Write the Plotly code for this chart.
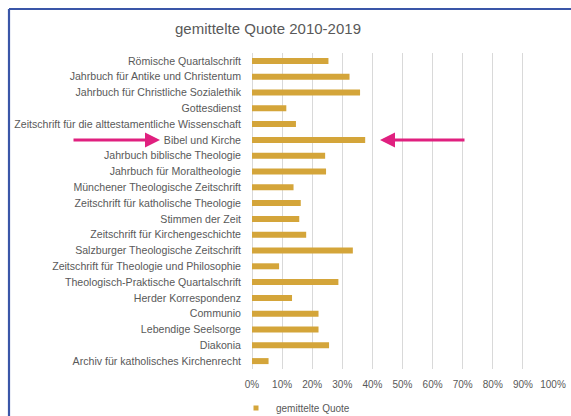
import plotly.graph_objects as go

categories = [
    "Römische Quartalschrift",
    "Jahrbuch für Antike und Christentum",
    "Jahrbuch für Christliche Sozialethik",
    "Gottesdienst",
    "Zeitschrift für die alttestamentliche Wissenschaft",
    "Bibel und Kirche",
    "Jahrbuch biblische Theologie",
    "Jahrbuch für Moraltheologie",
    "Münchener Theologische Zeitschrift",
    "Zeitschrift für katholische Theologie",
    "Stimmen der Zeit",
    "Zeitschrift für Kirchengeschichte",
    "Salzburger Theologische Zeitschrift",
    "Zeitschrift für Theologie und Philosophie",
    "Theologisch-Praktische Quartalschrift",
    "Herder Korrespondenz",
    "Communio",
    "Lebendige Seelsorge",
    "Diakonia",
    "Archiv für katholisches Kirchenrecht",
]
quote = [0.254, 0.324, 0.359, 0.114, 0.146, 0.376, 0.243, 0.246, 0.138, 0.162,
         0.157, 0.180, 0.335, 0.090, 0.287, 0.133, 0.221, 0.221, 0.256, 0.055]
tick_vals = [i / 10 for i in range(11)]
tick_text = [f"{i*10}%" for i in range(11)]

W, H = 571, 416
L, R, T, B = 252, 18, 53, 47
pw = W - L - R

def px_to_paper_x(px):
    return (px - L) / pw

label_color = "#595959"
font_family = "Liberation Sans, Arial, sans-serif"
bar_color = "#D4A53A"

fig = go.Figure()
fig.add_trace(go.Bar(
    x=quote, y=categories, orientation="h",
    name="gemittelte Quote", showlegend=False,
    marker=dict(color=bar_color, line=dict(width=0)),
    width=0.38,
))
# legend entry with a small square symbol
fig.add_trace(go.Scatter(
    x=[None], y=[None], mode="markers", name="gemittelte Quote",
    marker=dict(symbol="square", size=5, color=bar_color),
    showlegend=True,
))

fig.update_layout(
    width=W, height=H,
    margin=dict(l=L, r=R, t=T, b=B, autoexpand=False),
    paper_bgcolor="white", plot_bgcolor="white",
    font=dict(family=font_family, color=label_color, size=10),
    title=dict(text="gemittelte Quote 2010-2019", x=268 / W, xref="container",
               xanchor="center", y=1 - 29 / H, yref="container", yanchor="middle",
               font=dict(size=15, color=label_color, family=font_family)),
    showlegend=True,
    legend=dict(orientation="h", x=236 / W, xref="container", xanchor="left",
                y=1 - 408 / H, yref="container", yanchor="middle",
                font=dict(size=10, color=label_color), itemwidth=30,
                bgcolor="rgba(0,0,0,0)", borderwidth=0),
    bargap=0.6,
)
fig.update_xaxes(range=[0, 1.0], tickvals=tick_vals, ticktext=tick_text,
                 showgrid=True, gridcolor="#D9D9D9", gridwidth=1,
                 zeroline=True, zerolinecolor="#D9D9D9", zerolinewidth=1,
                 showline=False, ticks="", tickfont=dict(size=10, color=label_color),
                 ticklabelstandoff=8)
fig.update_yaxes(autorange="reversed", showgrid=False, showline=False, ticks="",
                 tickfont=dict(size=10.6, color=label_color), ticklabelstandoff=10)

# blue frame (left and top edges)
x_left = px_to_paper_x(9)
y_top = 1 + (T - 9) / (H - T - B)
fig.add_shape(type="line", xref="paper", yref="paper", x0=x_left, x1=px_to_paper_x(W + 5),
              y0=y_top, y1=y_top, line=dict(color="#3A56A8", width=2.2))
fig.add_shape(type="line", xref="paper", yref="paper", x0=x_left, x1=x_left,
              y0=y_top, y1=-(B + 5) / (H - T - B), line=dict(color="#3A56A8", width=2.2))

# magenta arrows pointing at "Bibel und Kirche"
arrow_color = "#E0207F"
fig.add_annotation(xref="paper", yref="y", x=px_to_paper_x(160), y="Bibel und Kirche",
                   ax=-88, ay=0, axref="pixel", ayref="pixel", text="", showarrow=True,
                   arrowhead=2, arrowsize=1, arrowwidth=3, arrowcolor=arrow_color)
fig.add_annotation(xref="paper", yref="y", x=px_to_paper_x(380), y="Bibel und Kirche",
                   ax=86, ay=0, axref="pixel", ayref="pixel", text="", showarrow=True,
                   arrowhead=2, arrowsize=1, arrowwidth=3, arrowcolor=arrow_color)

fig.write_html("out.html")
